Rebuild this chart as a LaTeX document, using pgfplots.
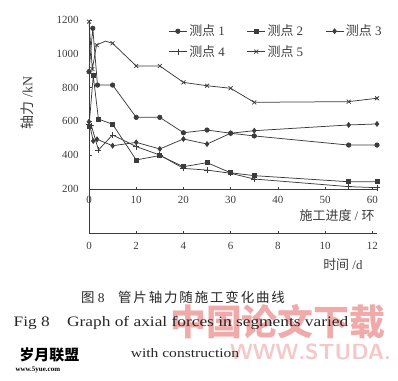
\documentclass[border=0pt]{standalone}
\usepackage{pgfplots}
\pgfplotsset{compat=1.18}
\usepackage{fontspec}
\setmainfont{Liberation Serif}
\newfontfamily\cjk{Noto Sans CJK SC}
\newfontfamily\cjkwide{Noto Sans CJK SC}[LetterSpace=14]
\definecolor{ink}{RGB}{60,60,60}
\definecolor{wm}{RGB}{240,170,170}
\definecolor{wm2}{RGB}{245,200,200}
\begin{document}
\begin{tikzpicture}[x=1bp,y=1bp]
\useasboundingbox (0,0) rectangle (398,-381);
% watermarks
\node[text=wm,font=\cjk\bfseries\fontsize{36}{36}\selectfont,anchor=west,inner sep=0] at (170,-322) {中国论文下载};
\node[text=wm2,font=\sffamily\bfseries\fontsize{22}{22}\selectfont,anchor=west,inner sep=0] at (230,-352) {WWW.STUDA.};
\begin{axis}[
  at={(89bp,-189bp)}, anchor=south west, scale only axis,
  width=288bp, height=169bp,
  xmin=0, xmax=61, ymin=200, ymax=1200,
  axis x line*=bottom, axis y line*=left,
  axis line style={ink, line width=0.7bp},
  xtick={0,10,...,60}, ytick={200,400,...,1200},
  tick align=inside, major tick length=2.5bp,
  tick style={ink, line width=0.6bp},
  /pgf/number format/assume math mode=true,
  /pgf/number format/1000 sep={},
  ticklabel style={font=\fontsize{11}{11}\selectfont, text=ink},
  xticklabel style={yshift=-4bp},
  yticklabel style={xshift=-7bp},
  clip=false,
  every axis plot/.append style={ink, line width=0.75bp, mark size=2.2bp},
  legend columns=3,
  legend style={draw=none, fill=none, at={(0.265,0.995)}, anchor=north west,
    font=\fontsize{13}{13}\selectfont, text=ink,
    /tikz/every even column/.append style={column sep=20bp},
    row sep=4bp},
  legend cell align=left,
  legend image code/.code={\draw[#1, mark options={solid}] (0bp,0bp) -- (9bp,0bp) -- (18bp,0bp); \path[#1] plot coordinates {(9bp,0bp)};},
]
\addplot[mark=*] coordinates {(0,894) (0.8,1151) (1.8,815) (5,815) (10,624) (15,624) (20,533) (25,549) (30,530) (35,514) (55,460) (61,460)};
\addlegendentry{{\cjk 测点} 1}
\addplot[mark=square*, mark size=2bp] coordinates {(0,569) (0.9,870) (2,614) (5,583) (10,372) (15,398) (20,332) (25,356) (30,296) (35,279) (55,243) (61,243)};
\addlegendentry{{\cjk 测点} 2}
\addplot[mark=diamond*, mark size=2.4bp] coordinates {(0,598) (0.9,484) (1.7,494) (5,456) (10,476) (15,437) (20,496) (25,466) (30,530) (35,545) (55,579) (61,585)};
\addlegendentry{{\cjk 测点} 3}
\addplot[mark=+, mark size=3bp] coordinates {(0,580) (0.5,575) (2,431) (5,520) (10,451) (15,401) (20,322) (25,312) (30,293) (35,259) (55,214) (61,208)};
\addlegendentry{{\cjk 测点} 4}
\addplot[mark=x, mark size=2.8bp, mark indices={1,2,3,5,6,7,8,9,10,11,12,13}] coordinates {(0,1190) (0.7,910) (1.6,1052) (3.5,1075) (5,1062) (10,928) (15,928) (20,831) (25,811) (30,796) (35,713) (55,717) (61,737)};
\addlegendentry{{\cjk 测点} 5}
\end{axis}
\begin{axis}[
  at={(89bp,-233bp)}, anchor=south west, scale only axis,
  width=288bp, height=44bp,
  xmin=0, xmax=12.2, ymin=0, ymax=1,
  axis x line*=bottom, axis y line*=left,
  axis line style={ink, line width=0.7bp},
  ytick=\empty, xtick={0,2,...,12},
  tick align=inside, major tick length=2.5bp,
  tick style={ink, line width=0.6bp},
  /pgf/number format/assume math mode=true,
  ticklabel style={font=\fontsize{11}{11}\selectfont, text=ink},
  xticklabel style={yshift=-6bp},
]
\addplot[draw=none] coordinates {(0,0)};
\end{axis}
\node[text=ink, rotate=90, font=\fontsize{14}{14}\selectfont] at (27,-103) {{\cjk 轴力} /kN};
\node[text=ink, anchor=east, font=\fontsize{13}{13}\selectfont] at (378,-216) {{\cjk 施工进度} / {\cjk 环}};
\node[text=ink, anchor=east, font=\fontsize{13}{13}\selectfont] at (366,-265) {{\cjk 时间} /d};
\node[text=black!85, font=\fontsize{13.5}{13.5}\selectfont] at (183,-297) {{\cjk 图} 8\quad{\cjkwide 管片轴力随施工变化曲线}};
\node[text=black!85, font=\fontsize{14.5}{14.5}\selectfont] at (181,-323) {\scalebox{1.2}[1]{Fig 8\quad Graph of axial forces in segments varied}};
\node[text=black!85, font=\fontsize{13}{13}\selectfont] at (185,-353) {\scalebox{1.2}[1]{with construction}};
\node[font=\cjk\bfseries\fontsize{15}{15}\selectfont, anchor=west] at (16,-355) {岁月联盟};
\node[font=\fontsize{7}{7}\selectfont\bfseries, anchor=west] at (12,-370) {www.5yue.com};
\end{tikzpicture}
\end{document}
